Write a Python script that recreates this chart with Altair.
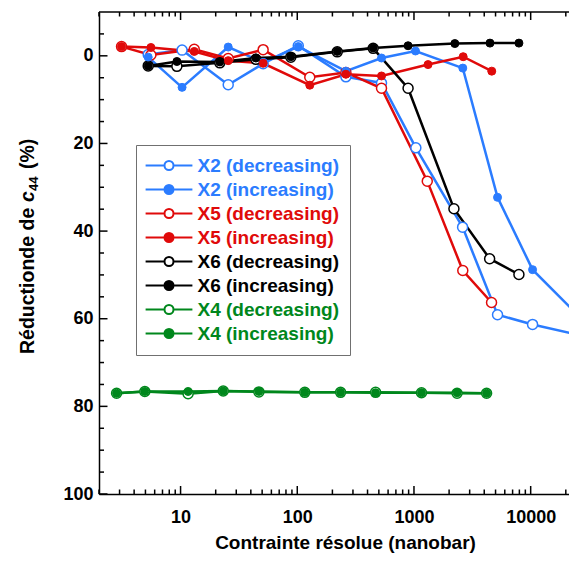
import altair as alt
import pandas as pd

BLUE = "#2b7cff"
RED = "#e00a0a"
BLACK = "#000000"
GREEN = "#00871c"
FONT = "Liberation Sans"

series_names = ["X2 (decreasing)", "X2 (increasing)", "X5 (decreasing)", "X5 (increasing)",
                "X6 (decreasing)", "X6 (increasing)", "X4 (decreasing)", "X4 (increasing)"]
series_colors = [BLUE, BLUE, RED, RED, BLACK, BLACK, GREEN, GREEN]
series_fills = ["white", BLUE, "white", RED, "white", BLACK, "white", GREEN]

x2_dec_x = [5.28, 10.3, 25.6, 51, 102, 261, 527, 1038, 2610, 5200, 10380, 24900]
x2_dec_y = [-0.3, -1.3, 6.6, 1.8, -2.3, 4.8, 6.2, 21.0, 39.1, 59.1, 61.3, 63.6]
x2_inc_x = [5.28, 10.3, 25.6, 51, 102, 261, 527, 1030, 2620, 5200, 10380, 25000]
x2_inc_y = [0.3, 7.2, -2.0, 1.5, -2.1, 3.5, 0.5, -1.1, 2.8, 32.3, 48.8, 59.0]
x5_dec_x = [3.12, 5.57, 13.1, 25.6, 51, 128, 261, 527, 1300, 2620, 4620]
x5_dec_y = [-2.1, -0.2, -1.5, 0.6, -1.4, 4.9, 3.8, 7.4, 28.6, 49.0, 56.3]
x5_inc_x = [3.12, 5.57, 13.1, 25.6, 51, 128, 261, 527, 1320, 2640, 4640]
x5_inc_y = [-2.1, -1.9, -1.0, 1.1, 1.7, 6.7, 4.2, 4.6, 2.0, 0.2, 3.5]
x6_dec_x = [5.28, 9.3, 21.7, 44.2, 88, 220, 447, 890, 2200, 4450, 7930]
x6_dec_y = [2.3, 2.4, 1.6, 0.8, 0.3, -0.9, -1.7, 7.4, 34.9, 46.3, 49.9]
x6_inc_x = [5.28, 9.3, 21.7, 44.2, 88, 220, 447, 890, 2240, 4480, 7930]
x6_inc_y = [2.3, 1.3, 1.4, 0.5, 0.2, -1.0, -1.8, -2.3, -2.8, -2.9, -2.9]
x4_x = [2.83, 4.94, 11.6, 23.2, 46.9, 116, 235, 469, 1160, 2340, 4190]
x4_dec_y = [77.0, 76.6, 77.1, 76.5, 76.7, 76.8, 76.8, 76.8, 76.9, 77.0, 77.0]
x4_inc_y = [77.0, 76.6, 76.6, 76.5, 76.6, 76.8, 76.8, 76.9, 76.9, 76.9, 77.0]

x_major = [10, 100, 1000, 10000]
x_minor = [2, 3, 4, 5, 6, 7, 8, 9, 20, 30, 40, 50, 60, 70, 80, 90,
           200, 300, 400, 500, 600, 700, 800, 900, 2000, 3000, 4000, 5000,
           6000, 7000, 8000, 9000, 20000]
y_major = [0, 20, 40, 60, 80, 100]
y_minor = [-5, 5, 10, 15, 25, 30, 35, 45, 50, 55, 65, 70, 75, 85, 90, 95]

W, H = 470, 482

series_data = [
    (series_names[0], "decreasing", x2_dec_x, x2_dec_y),
    (series_names[1], "increasing", x2_inc_x, x2_inc_y),
    (series_names[2], "decreasing", x5_dec_x, x5_dec_y),
    (series_names[3], "increasing", x5_inc_x, x5_inc_y),
    (series_names[4], "decreasing", x6_dec_x, x6_dec_y),
    (series_names[5], "increasing", x6_inc_x, x6_inc_y),
    (series_names[6], "decreasing", x4_x, x4_dec_y),
    (series_names[7], "increasing", x4_x, x4_inc_y),
]
rows = []
for name, kind, xs, ys in series_data:
    for xv, yv in zip(xs, ys):
        rows.append({"series": name, "kind": kind, "x": xv, "y": yv})
df = pd.DataFrame(rows)

xscale = alt.Scale(type="log", domain=[2, 21300], nice=False)
yscale = alt.Scale(domain=[-10, 100], reverse=True, nice=False, zero=False)
cscale = alt.Scale(domain=series_names, range=series_colors)
fscale = alt.Scale(domain=series_names, range=series_fills)

x_axis = alt.Axis(
    values=x_major, format="d", title="Contrainte résolue (nanobar)",
    ticks=False, tickSize=0, domain=True, domainColor="black", domainWidth=1.5,
    grid=False, labelPadding=14,
    labelFontSize=18, labelFontWeight="bold", labelFont=FONT, labelColor="black",
    titleFontSize=19, titleFontWeight="bold", titleFont=FONT, titleColor="black",
    titleX=246, titleY=54, titleBaseline="alphabetic", labelFlush=False)
y_axis = alt.Axis(
    values=y_major, title=None, ticks=False, tickSize=0, domain=True,
    domainColor="black", domainWidth=1.5, grid=False,
    labelPadding=6, labelFontSize=18, labelFontWeight="bold", labelFont=FONT,
    labelColor="black")

x_enc = alt.X("x:Q", scale=xscale, axis=x_axis)
y_enc = alt.Y("y:Q", scale=yscale, axis=y_axis)

SYM = "M-5.2,0L-1,0M1,0L5.2,0M1,0A1,1,0,1,1,-1,0A1,1,0,1,1,1,0Z"
legend = alt.Legend(
    title=None, orient="none", legendX=37, legendY=133,
    symbolType=SYM, symbolSize=81, symbolStrokeWidth=2, symbolOpacity=1,
    symbolOffset=12.5,
    labelFontSize=19, labelFont=FONT, labelFontWeight="bold",
    labelColor={"expr": "scale('color', datum.value)"},
    labelOffset=19, rowPadding=4, padding=11, strokeColor="#707070", fillColor="white",
)

base = alt.Chart(df)
lines = base.mark_line(strokeWidth=2.5, clip=True).encode(
    x=x_enc, y=y_enc,
    color=alt.Color("series:N", scale=cscale),
    detail="series:N",
)
open_pts = base.transform_filter(alt.datum.kind == "decreasing").mark_point(
    shape="circle", size=100, strokeWidth=1.5, opacity=1, clip=True).encode(
    x=x_enc, y=y_enc,
    color=alt.Color("series:N", scale=cscale, legend=legend),
    fill=alt.Fill("series:N", scale=fscale, legend=legend),
)
filled_pts = base.transform_filter(alt.datum.kind == "increasing").mark_point(
    shape="circle", size=64, strokeWidth=1, opacity=1, clip=True).encode(
    x=x_enc, y=y_enc,
    color=alt.Color("series:N", scale=cscale, legend=legend),
    fill=alt.Fill("series:N", scale=fscale, legend=legend),
)


def xticks(vals, length, top):
    c = alt.Chart(pd.DataFrame({"v": vals})).mark_rule(color="black", strokeWidth=1.5)
    xe = alt.X("v:Q", scale=xscale, axis=x_axis)
    if top:
        return c.encode(x=xe, y=alt.value(0), y2=alt.value(length))
    return c.encode(x=xe, y=alt.value(H), y2=alt.value(H - length))


def yticks(vals, length):
    c = alt.Chart(pd.DataFrame({"v": vals})).mark_rule(color="black", strokeWidth=1.5)
    return c.encode(y=alt.Y("v:Q", scale=yscale, axis=y_axis), x=alt.value(0), x2=alt.value(length))


one = pd.DataFrame({"k": [0]})
top_line = alt.Chart(one).mark_rule(color="black", strokeWidth=1.5).encode(
    x=alt.value(0), x2=alt.value(W), y=alt.value(0))

tick_layers = [
    top_line,
    xticks(x_major, 8, False), xticks(x_minor, 4.5, False),
    xticks(x_major, 8, True), xticks(x_minor, 4.5, True),
    yticks(y_major, 8.5), yticks(y_minor, 5),
]

TX = -65
Y0 = 342
FS = 19.5
title_parts = [
    ("Réductionde de ", FS, "normal", TX, Y0),
    ("c", FS, "italic", TX, Y0 - 152),
    ("44", 13, "normal", TX + 4, Y0 - 163),
    ("(%)", FS, "normal", TX, Y0 - 185),
]
title_layers = []
for txt, fs, style, tx, ty in title_parts:
    title_layers.append(
        alt.Chart(one).mark_text(angle=270, align="left", baseline="alphabetic",
                                 fontSize=fs, fontWeight="bold", fontStyle=style,
                                 font=FONT, color="black").encode(
            x=alt.value(tx), y=alt.value(ty), text=alt.value(txt))
    )

chart = alt.layer(*tick_layers, lines, open_pts, filled_pts, *title_layers).properties(
    width=W, height=H,
    autosize=alt.AutoSizeParams(type="none"),
    padding={"left": 91, "top": 4, "right": 0, "bottom": 59},
).configure(font=FONT).configure_view(strokeWidth=0)

chart.save("out.html", embed_options={"renderer": "svg", "actions": False})
